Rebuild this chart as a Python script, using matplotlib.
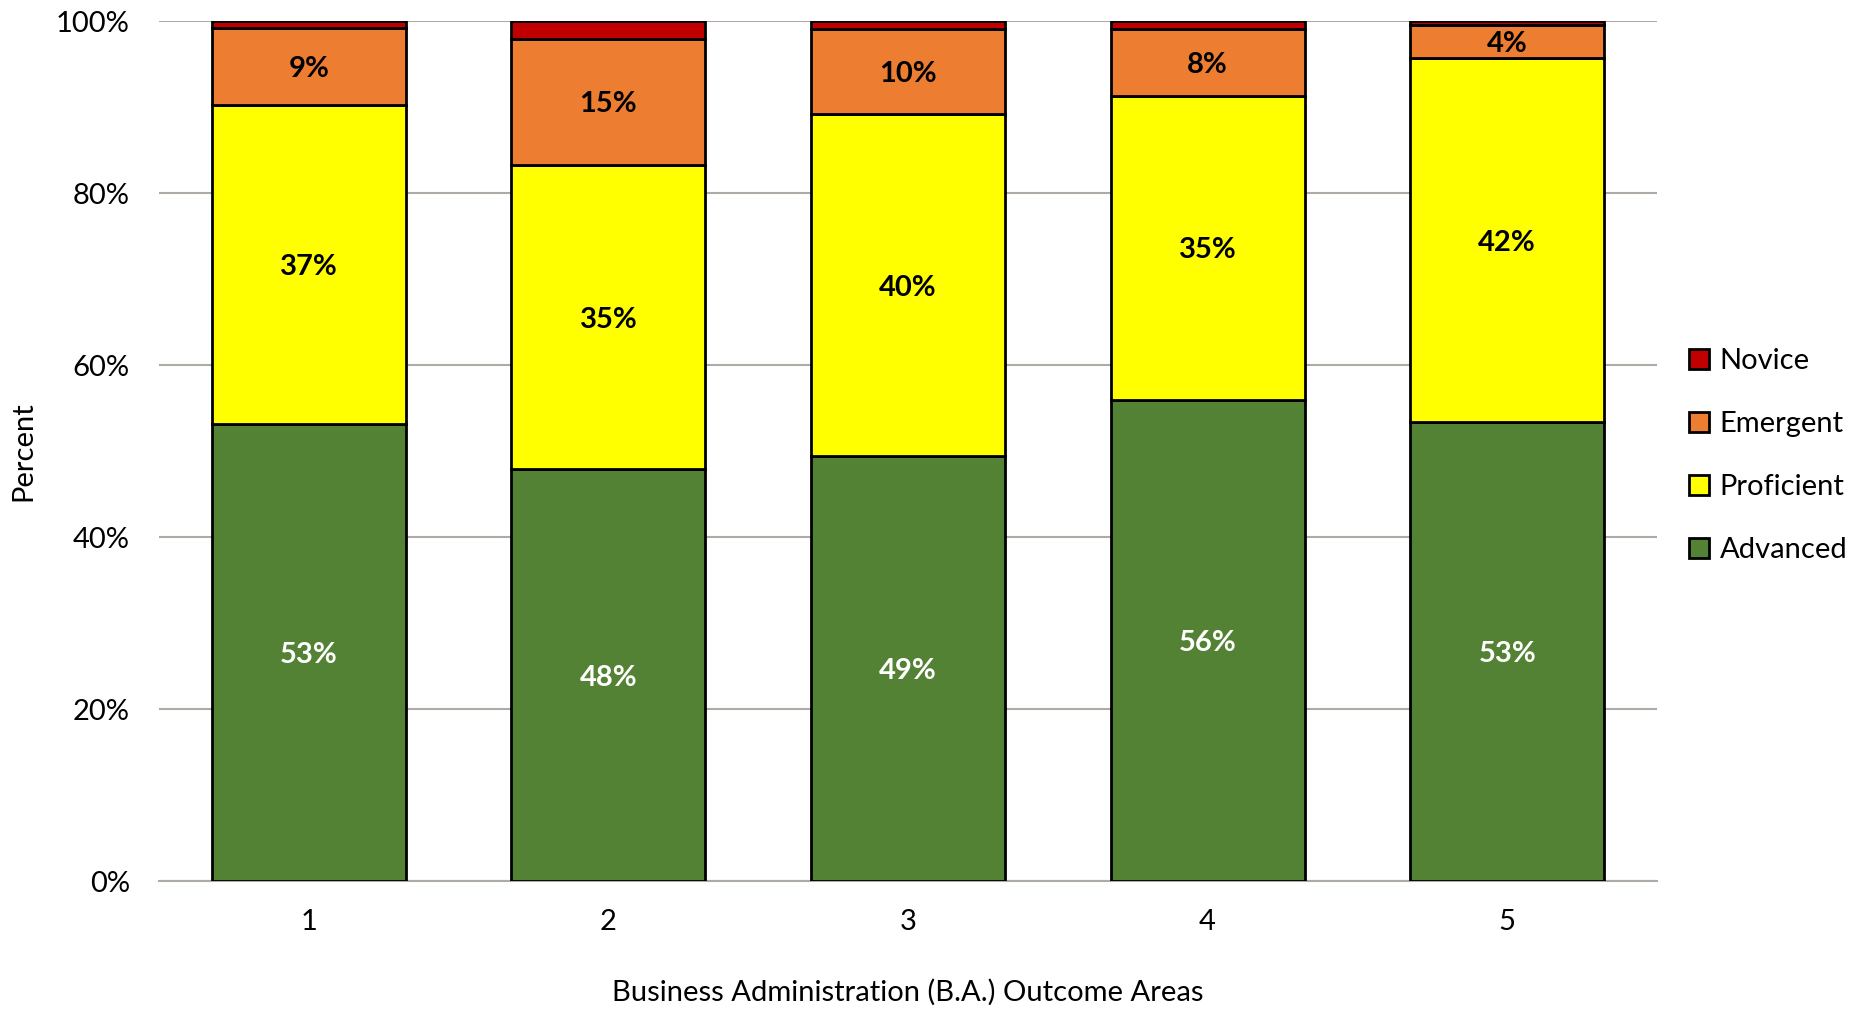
import numpy as np
import matplotlib.pyplot as plt
from matplotlib.ticker import PercentFormatter

plt.rcParams['font.family'] = ['Lato', 'DejaVu Sans']

areas = ['1', '2', '3', '4', '5']
advanced = [53.2, 47.9, 49.4, 56.0, 53.4]
proficient = [37.1, 35.4, 39.8, 35.3, 42.3]
emergent = [8.9, 14.7, 9.9, 7.8, 3.9]
novice = [0.8, 2.0, 0.9, 0.9, 0.4]

levels = ['Advanced', 'Proficient', 'Emergent', 'Novice']
colors = ['#548235', '#FFFF00', '#ED7D31', '#C00000']
text_colors = ['white', 'black', 'black', None]

fig = plt.figure(figsize=(18.66, 10.10), dpi=100)
ax = fig.add_axes([0.0852, 0.1277, 0.8028, 0.8511])

x = np.arange(len(areas))
bottom = np.zeros(len(areas))
bars = []
for vals, name, col, tc in zip([advanced, proficient, emergent, novice], levels, colors, text_colors):
    vals = np.array(vals)
    b = ax.bar(x, vals, 0.647, bottom=bottom, color=col, edgecolor='black',
               linewidth=2, label=name, zorder=3)
    bars.append(b)
    if tc is not None:
        for xi, v, bt in zip(x, vals, bottom):
            ax.text(xi, bt + v / 2, f'{round(v):.0f}%', ha='center', va='center_baseline',
                    fontsize=21, fontweight='bold', color=tc, zorder=4)
    bottom += vals

ax.set_xlim(-0.5, len(areas) - 0.5)
ax.set_ylim(0, 100)
ax.set_yticks(np.arange(0, 101, 20))
ax.yaxis.set_major_formatter(PercentFormatter(decimals=0))
ax.set_xticks(x)
ax.set_xticklabels(areas)
ax.grid(axis='y', color='#B0AAA4', linewidth=1.5, zorder=0)
for s in ['top', 'right', 'left']:
    ax.spines[s].set_visible(False)
ax.spines['bottom'].set_color('#B0AAA4')
ax.spines['bottom'].set_linewidth(1.5)
ax.tick_params(axis='both', length=0, labelsize=21)
ax.tick_params(axis='y', pad=21)
ax.tick_params(axis='x', pad=20)

ax.set_ylabel('Percent', fontsize=21, labelpad=14)
ax.set_xlabel('Business Administration (B.A.) Outcome Areas', fontsize=21, labelpad=32)

fig.legend(bars[::-1], levels[::-1], loc='center left', bbox_to_anchor=(0.891, 0.549),
           frameon=False, fontsize=21, handlelength=0.7, handleheight=0.7,
           handletextpad=0.35, labelspacing=1.27)

fig.savefig('out.png', dpi=100)
